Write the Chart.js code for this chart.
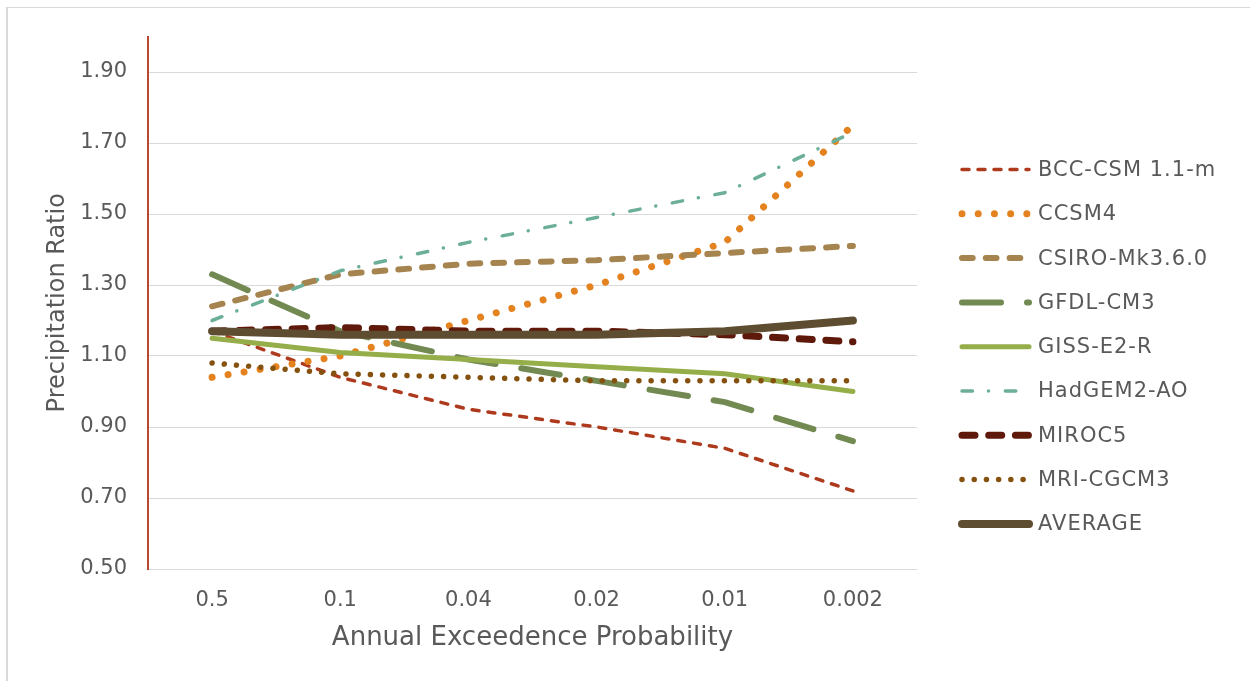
<!DOCTYPE html>
<html>
<head>
<meta charset="utf-8">
<title>Precipitation Ratio by Annual Exceedence Probability</title>
<script src="https://cdn.jsdelivr.net/npm/chart.js@4.4.1/dist/chart.umd.min.js"></script>
<style>
  html, body { margin: 0; padding: 0; background: #ffffff; }
  canvas { display: block; }
</style>
</head>
<body>
<canvas id="chart" width="1250" height="681"></canvas>
<script>
// Annual exceedence probabilities (category axis)
const categories = ['0.5', '0.1', '0.04', '0.02', '0.01', '0.002'];

// Value axis tick marks
const yTicks = [0.5, 0.7, 0.9, 1.1, 1.3, 1.5, 1.7, 1.9];

// Model names, in legend order
const seriesNames = ['BCC-CSM 1.1-m', 'CCSM4', 'CSIRO-Mk3.6.0', 'GFDL-CM3', 'GISS-E2-R',
                     'HadGEM2-AO', 'MIROC5', 'MRI-CGCM3', 'AVERAGE'];

// Precipitation ratio per model
const bccCsm   = [1.17, 1.04, 0.95, 0.90, 0.84, 0.72];
const ccsm4    = [1.04, 1.10, 1.20, 1.30, 1.42, 1.75];
const csiro    = [1.24, 1.33, 1.36, 1.37, 1.39, 1.41];
const gfdl     = [1.33, 1.17, 1.09, 1.03, 0.97, 0.86];
const giss     = [1.15, 1.11, 1.09, 1.07, 1.05, 1.00];
const hadgem   = [1.20, 1.34, 1.42, 1.49, 1.56, 1.73];
const miroc5   = [1.17, 1.18, 1.17, 1.17, 1.16, 1.14];
const mri      = [1.08, 1.05, 1.04, 1.03, 1.03, 1.03];
const average  = [1.17, 1.16, 1.16, 1.16, 1.17, 1.20];

const seriesValues = [bccCsm, ccsm4, csiro, gfdl, giss, hadgem, miroc5, mri, average];

// Line appearance for each model
const lineStyles = [
  { color: '#AE3A1E', width: 3.5, dash: [7, 9],                 cap: 'round' },
  { color: '#E3821E', width: 7,   dash: [0.01, 16.2],           cap: 'round' },
  { color: '#A5844F', width: 6,   dash: [10.7, 13.1],           cap: 'round' },
  { color: '#728A52', width: 6,   dash: [39, 26],               cap: 'round' },
  { color: '#95AE4A', width: 5,   dash: [],                     cap: 'round' },
  { color: '#6BAF97', width: 3.5, dash: [10.5, 16, 0.01, 16.8], cap: 'round' },
  { color: '#5F190B', width: 7,   dash: [13, 13.7],             cap: 'round' },
  { color: '#85510F', width: 5.5, dash: [0.01, 12.2],           cap: 'round' },
  { color: '#5E4D30', width: 8,   dash: [],                     cap: 'round' }
];

const FONT = "'DejaVu Sans', 'Liberation Sans', sans-serif";
const TEXT = '#595959';

const datasets = seriesNames.map((name, i) => ({
  label: name,
  data: seriesValues[i],
  borderColor: lineStyles[i].color,
  backgroundColor: lineStyles[i].color,
  borderWidth: lineStyles[i].width,
  borderDash: lineStyles[i].dash,
  borderCapStyle: lineStyles[i].cap,
  borderJoinStyle: 'round',
  pointRadius: 0,
  pointHoverRadius: 0,
  tension: 0,
  fill: false,
  order: seriesNames.length - 1 - i   // later series drawn on top
}));

// White page with a light frame on the top and left edges
const framePlugin = {
  id: 'frame',
  beforeDraw(chart) {
    const ctx = chart.ctx;
    ctx.save();
    ctx.fillStyle = '#ffffff';
    ctx.fillRect(0, 0, chart.width, chart.height);
    ctx.fillStyle = '#d9d9d9';
    ctx.fillRect(6, 7, 2, chart.height - 7);
    ctx.fillRect(6, 7, chart.width - 6, 1);
    ctx.restore();
  }
};

// Legend on the right with line samples in each model's style
const lineLegendPlugin = {
  id: 'lineLegend',
  afterDraw(chart) {
    const ctx = chart.ctx;
    const x0 = 962, x1 = 1029, textX = 1038;
    const top = 169.5, step = 44.3;
    ctx.save();
    chart.data.datasets.forEach((ds, i) => {
      const y = top + i * step;
      ctx.beginPath();
      ctx.strokeStyle = ds.borderColor;
      ctx.lineWidth = ds.borderWidth;
      ctx.lineCap = ds.borderCapStyle;
      ctx.setLineDash(ds.borderDash);
      ctx.moveTo(x0, y);
      ctx.lineTo(x1, y);
      ctx.stroke();
      ctx.setLineDash([]);
      ctx.fillStyle = TEXT;
      ctx.font = '21px ' + FONT;
      if ('letterSpacing' in ctx) ctx.letterSpacing = '1px';
      ctx.textAlign = 'left';
      ctx.textBaseline = 'middle';
      ctx.fillText(ds.label, textX, y + 1);
    });
    ctx.restore();
  }
};

new Chart(document.getElementById('chart'), {
  type: 'line',
  data: { labels: categories, datasets },
  plugins: [framePlugin, lineLegendPlugin],
  options: {
    responsive: false,
    animation: false,
    devicePixelRatio: 1,
    layout: { padding: { top: 36.5, right: 333, bottom: 0, left: 0 } },
    plugins: {
      legend: { display: false },
      tooltip: { enabled: false }
    },
    scales: {
      x: {
        offset: true,
        afterFit(scale) { scale.height = 112; },
        grid: { display: false, drawTicks: false },
        border: { display: false },
        ticks: {
          padding: 19.4, color: TEXT, maxRotation: 0, autoSkip: false,
          font: { family: FONT, size: 21 }
        },
        title: {
          display: true, text: 'Annual Exceedence Probability', color: TEXT,
          font: { family: FONT, size: 26 }, padding: { top: 0, bottom: 27.4 }
        }
      },
      y: {
        min: 0.5,
        max: 2.0,
        afterBuildTicks(scale) { scale.ticks = yTicks.map(v => ({ value: v })); },
        afterFit(scale) { scale.width = 148; },
        grid: { color: '#d9d9d9', lineWidth: 1, drawTicks: false },
        border: { display: true, color: '#B9492F', width: 2 },
        ticks: {
          padding: 21, color: TEXT,
          font: { family: FONT, size: 21 },
          callback: v => Number(v).toFixed(2)
        },
        title: {
          display: true, text: 'Precipitation Ratio', color: TEXT,
          font: { family: FONT, size: 24 }, padding: { top: 43.6, bottom: 0 }
        }
      }
    }
  }
});
</script>
</body>
</html>
